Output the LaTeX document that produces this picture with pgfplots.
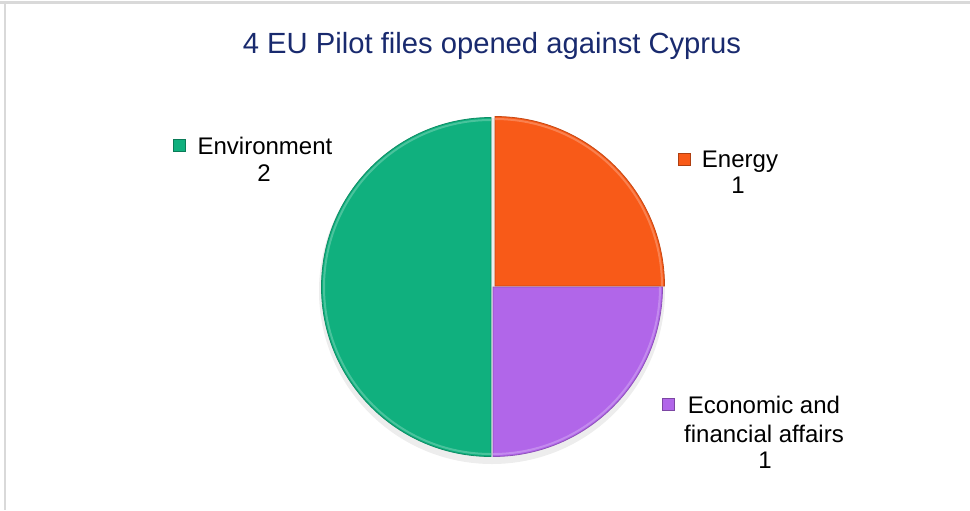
\documentclass[border=0pt]{standalone}
\usepackage{fontspec}
\setmainfont{Liberation Sans}
\usepackage{pgfplots}
\usepackage{pgfplotstable}
\pgfplotsset{compat=1.18}

\definecolor{envgreen}{RGB}{16,176,126}
\definecolor{energyorange}{RGB}{248,90,24}
\definecolor{econpurple}{RGB}{177,102,233}
\definecolor{titleblue}{RGB}{25,42,110}
\definecolor{framegray}{RGB}{217,217,217}

% slices, clockwise from 12 o'clock
\pgfplotstableread{
name        value
Energy      1
Economic    1
Environment 2
}\piedata

\pgfplotstablegetelem{0}{value}\of\piedata \let\vEnergy\pgfplotsretval
\pgfplotstablegetelem{1}{value}\of\piedata \let\vEcon\pgfplotsretval
\pgfplotstablegetelem{2}{value}\of\piedata \let\vEnv\pgfplotsretval
\pgfmathsetmacro\total{\vEnergy+\vEcon+\vEnv}
\pgfmathsetmacro\aA{90}
\pgfmathsetmacro\aB{\aA-360*\vEnergy/\total}
\pgfmathsetmacro\aC{\aB-360*\vEcon/\total}
\pgfmathsetmacro\aD{\aC-360*\vEnv/\total}

% colour, start angle, end angle, shift x, shift y
\newcommand\pieslice[5]{%
  \fill[#1, draw=#1!80!black, line width=0.4pt]
    ([shift={(#4pt,#5pt)}]axis cs:492,287) -- ++(#2:84.75pt)
    arc[start angle=#2, end angle=#3, radius=84.75pt] -- cycle;
  \draw[#1!60!white, line width=1pt, opacity=0.6]
    ([shift={(#4pt,#5pt)}]axis cs:492,287) ++(#2:83.5pt)
    arc[start angle=#2, end angle=#3, radius=83.5pt];
}

\begin{document}
\begin{tikzpicture}
\path[use as bounding box] (0,0) rectangle (485pt,255pt);
\begin{axis}[at={(0,0)}, anchor=south west,
  scale only axis, width=485pt, height=255pt,
  xmin=0, xmax=970, ymin=0, ymax=510, y dir=reverse,
  hide axis, clip=false]

  % frame
  \draw[framegray, line width=1.2pt] (axis cs:0,2.5) -- (axis cs:970,2.5);
  \draw[framegray, line width=1.2pt] (axis cs:5,2.5) -- (axis cs:5,510);

  % title
  \node[anchor=base, text=titleblue, font=\fontsize{14.6}{17}\selectfont]
    at (axis cs:492,53) {4 EU Pilot files opened against Cyprus};

  % shadow and pie
  \fill[black, opacity=0.07] (axis cs:492,291) circle[radius=86.5pt];
  \pieslice{energyorange}{\aA}{\aB}{1.5}{0.5}
  \pieslice{econpurple}{\aB}{\aC}{0.5}{0}
  \pieslice{envgreen}{\aC}{\aD}{-0.5}{0}

  % labels
  \fill[envgreen, draw=envgreen!70!black, line width=0.3pt]
    (axis cs:179,145) ++(-3pt,-3pt) rectangle ++(6pt,6pt);
  \node[anchor=base, font=\fontsize{12}{14}\selectfont] at (axis cs:265,154) {Environment};
  \node[anchor=base, font=\fontsize{12}{14}\selectfont] at (axis cs:264,181) {2};

  \fill[energyorange, draw=energyorange!70!black, line width=0.3pt]
    (axis cs:684,159) ++(-3pt,-3pt) rectangle ++(6pt,6pt);
  \node[anchor=base, font=\fontsize{12}{14}\selectfont] at (axis cs:740,167) {Energy};
  \node[anchor=base, font=\fontsize{12}{14}\selectfont] at (axis cs:738,193) {1};

  \fill[econpurple, draw=econpurple!70!black, line width=0.3pt]
    (axis cs:668,404) ++(-3pt,-3pt) rectangle ++(6pt,6pt);
  \node[anchor=base, font=\fontsize{12}{14}\selectfont] at (axis cs:764,413) {Economic and};
  \node[anchor=base, font=\fontsize{12}{14}\selectfont] at (axis cs:764,442) {financial affairs};
  \node[anchor=base, font=\fontsize{12}{14}\selectfont] at (axis cs:765,468) {1};
\end{axis}
\end{tikzpicture}
\end{document}
